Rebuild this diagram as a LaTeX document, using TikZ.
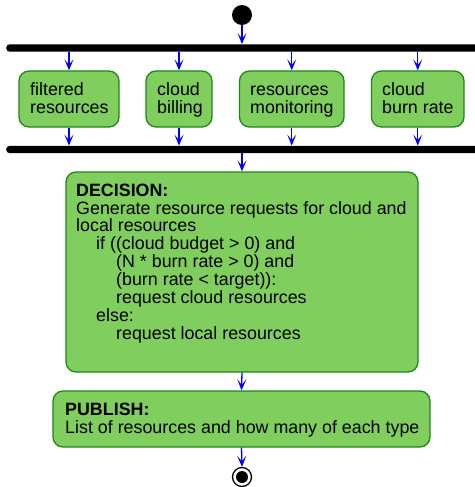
\documentclass[tikz,border=0pt]{standalone}
\usepackage{fontspec}
\setmainfont{Liberation Sans}
\usetikzlibrary{arrows.meta}
\definecolor{boxfill}{RGB}{128,206,93}
\definecolor{boxline}{RGB}{30,135,25}
\definecolor{arrblue}{RGB}{0,0,255}
\tikzset{
  x=1pt, y=-1pt,
  actbox/.style={draw=boxline, fill=boxfill, line width=1.3pt, rounded corners=10pt, inner sep=0pt},
  txt/.style={inner sep=0pt, anchor=north west, align=left, font=\fontsize{17.85}{17.85}\selectfont},
  bar/.style={fill=black, rounded corners=3.5pt, inner sep=0pt, minimum height=7.4pt},
  arr/.style={draw=arrblue, line width=1.3pt, -{Stealth[length=11pt,width=9pt,inset=5.5pt]}},
}
\newcommand{\fs}{\rule{0pt}{20pt}}
\begin{document}
\begin{tikzpicture}
\useasboundingbox (0,0) rectangle (474,487);
% start
\node[circle, fill=black, minimum size=20pt, inner sep=0pt] (start) at (242,15) {};
% bars
\node[bar, minimum width=490pt, anchor=west] (bar1) at (6,48) {};
\node[bar, minimum width=490pt, anchor=west] (bar2) at (6,149.5) {};
% top boxes
\path[actbox] (19,71) rectangle (119,127) node[pos=0.5, inner sep=0pt, minimum width=100pt, minimum height=56pt] (b1) {};
\path[actbox] (146,71) rectangle (212,127) node[pos=0.5, inner sep=0pt, minimum width=66pt, minimum height=56pt] (b2) {};
\path[actbox] (239.5,71) rectangle (344,127) node[pos=0.5, inner sep=0pt, minimum width=104.5pt, minimum height=56pt] (b3) {};
\path[actbox] (371.5,71) rectangle (464,127) node[pos=0.5, inner sep=0pt, minimum width=92.5pt, minimum height=56pt] (b4) {};
\node[txt] (t1) at (30,75) {\fs filtered\\resources};
\node[txt] (t2) at (157,75) {\fs cloud\\billing};
\node[txt] (t3) at (250,75) {\fs resources\\monitoring};
\node[txt] (t4) at (382,75) {\fs cloud\\burn rate};
% decision
\path[actbox] (66,172) rectangle (418,372) node[pos=0.5, inner sep=0pt, minimum width=352pt, minimum height=200pt] (dec) {};
\node[txt] (td) at (76,176) {\fs\textbf{DECISION:}\\
Generate resource requests for cloud and\\
local resources\\
\hspace*{20pt}if ((cloud budget > 0) and\\
\hspace*{40pt}(N * burn rate > 0) and\\
\hspace*{40pt}(burn rate < target)):\\
\hspace*{40pt}request cloud resources\\
\hspace*{20pt}else:\\
\hspace*{40pt}request local resources};
% publish
\path[actbox] (53,391) rectangle (430,447) node[pos=0.5, inner sep=0pt, minimum width=377pt, minimum height=56pt] (pub) {};
\node[txt] (tp) at (65,395.7) {\fs\textbf{PUBLISH:}\\List of resources and how many of each type};
% end
\node[circle, draw=black, fill=white, line width=1.3pt, minimum size=19pt, inner sep=0pt] (end) at (242,477) {};
\node[circle, fill=black, minimum size=12pt, inner sep=0pt] (endin) at (end.center) {};
% arrows
\draw[arr] (start.south) -- (start.south |- bar1.north);
\foreach \b in {b1,b2,b3,b4}{
  \draw[arr] (\b.north |- bar1.south) -- (\b.north);
  \draw[arr] (\b.south) -- (\b.south |- bar2.north);
}
\draw[arr] (dec.north |- bar2.south) -- (dec.north);
\draw[arr] (dec.south) -- (pub.north);
\draw[arr] (pub.south) -- (end.north);
\end{tikzpicture}
\end{document}
